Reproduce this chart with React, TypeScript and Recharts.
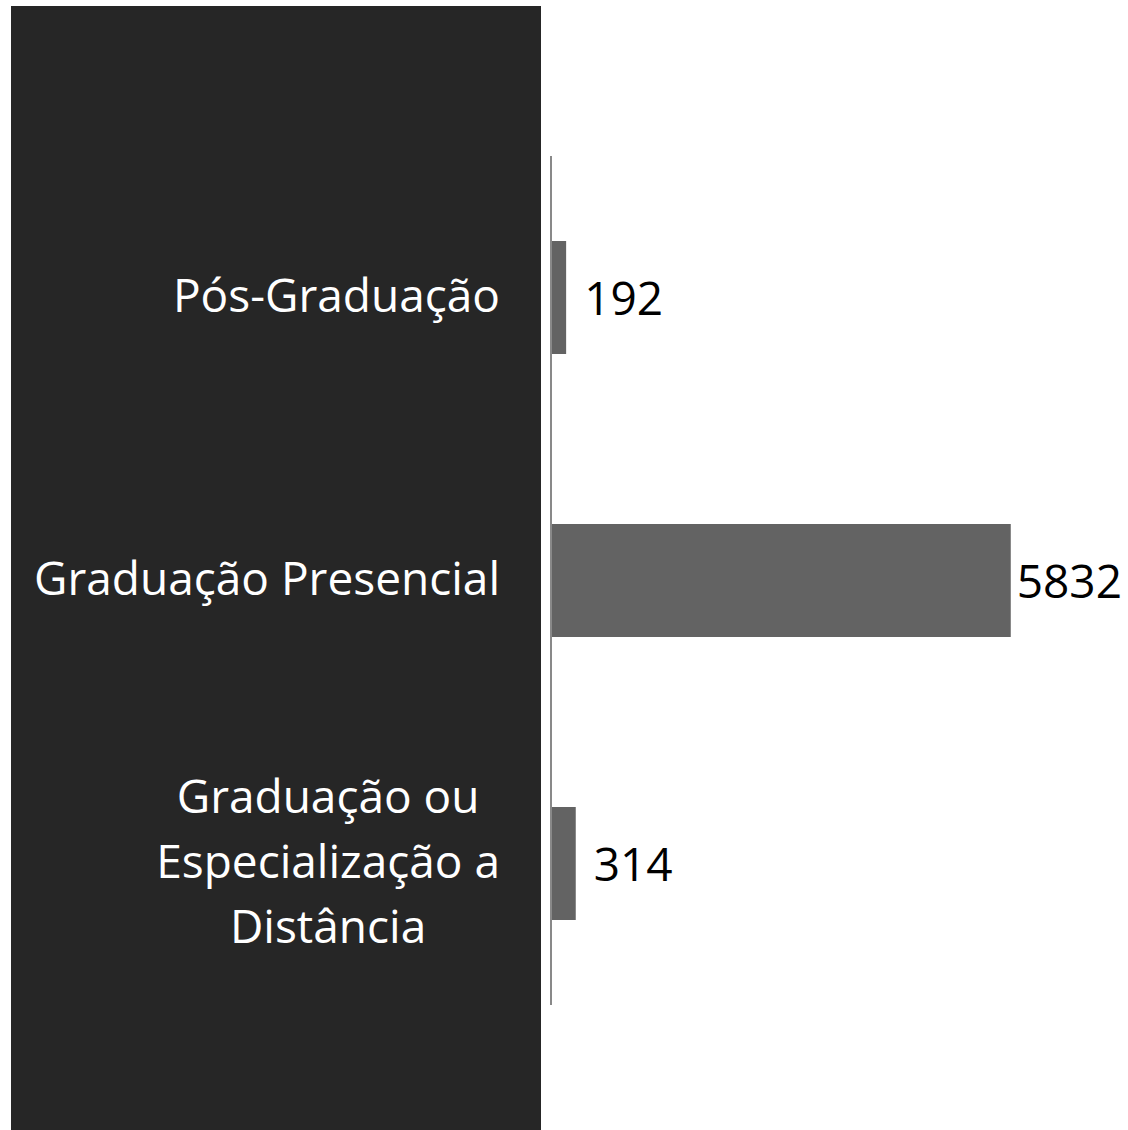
import { Bar, BarChart, LabelList, XAxis, YAxis } from 'recharts';

const categories = ['Pós-Graduação', 'Graduação Presencial', 'Graduação ou Especialização a Distância'];
const values = [192, 5832, 314];
const categoryLines = [['Pós-Graduação'], ['Graduação Presencial'], ['Graduação ou', 'Especialização a', 'Distância']];

const CHART_W = 1128;
const CHART_H = 1130;
const FONT = '"Open Sans", sans-serif';
const LABEL_SIZE = 46;
const VALUE_SIZE = 46;
const LINE_H = 65;

const chartData = categories.map((name, i) => ({ name, value: values[i] }));

let ctx: CanvasRenderingContext2D | null = null;
function textWidth(text: string, size: number): number {
  if (!ctx) ctx = document.createElement('canvas').getContext('2d');
  if (!ctx) return text.length * size * 0.55;
  ctx.font = `${size}px "Open Sans"`;
  return ctx.measureText(text).width;
}

function CategoryTick(props: any) {
  const { x, y, payload } = props;
  const lines = categoryLines[categories.indexOf(payload.value)] ?? [payload.value];
  if (lines.length === 1) {
    return (
      <text x={x} y={y + 14} textAnchor="end" fill="#ffffff" fontSize={LABEL_SIZE} fontFamily={FONT}>
        {lines[0]}
      </text>
    );
  }
  const maxW = Math.max(...lines.map((l) => textWidth(l, LABEL_SIZE)));
  const cx = x - maxW / 2;
  const firstBase = y + 14 - ((lines.length - 1) * LINE_H) / 2;
  return (
    <g>
      {lines.map((l, i) => (
        <text
          key={l}
          x={cx}
          y={firstBase + i * LINE_H}
          textAnchor="middle"
          fill="#ffffff"
          fontSize={LABEL_SIZE}
          fontFamily={FONT}
        >
          {l}
        </text>
      ))}
    </g>
  );
}

function ValueLabel(props: any) {
  const { x, y, width, height, value } = props;
  const w = textWidth(String(value), VALUE_SIZE);
  const end = x + width;
  const tx = end + 18 + w > CHART_W - 2 ? end + 6 : end + 18;
  return (
    <text x={tx} y={y + height / 2 + 18} fill="#000000" fontSize={VALUE_SIZE} fontFamily={FONT}>
      {value}
    </text>
  );
}

export default function App() {
  return (
    <div style={{ position: 'absolute', left: 0, top: 0, width: CHART_W, height: CHART_H, background: '#ffffff' }}>
      <div style={{ position: 'absolute', left: 11, top: 6, width: 530, height: CHART_H - 6, background: '#262626' }} />
      <div style={{ position: 'absolute', left: 0, top: 0 }}>
        <BarChart
          width={CHART_W}
          height={CHART_H}
          data={chartData}
          layout="vertical"
          barCategoryGap="30%"
          margin={{ top: 156, right: 104, bottom: 125, left: 0 }}
        >
          <XAxis type="number" domain={[0, 6000]} hide />
          <YAxis
            type="category"
            dataKey="name"
            width={551}
            axisLine={{ stroke: '#898989', strokeWidth: 2 }}
            tickLine={false}
            tickSize={0}
            tickMargin={51}
            tick={<CategoryTick />}
            interval={0}
          />
          <Bar dataKey="value" fill="#636363" isAnimationActive={false}>
            <LabelList dataKey="value" content={<ValueLabel />} />
          </Bar>
        </BarChart>
      </div>
    </div>
  );
}
